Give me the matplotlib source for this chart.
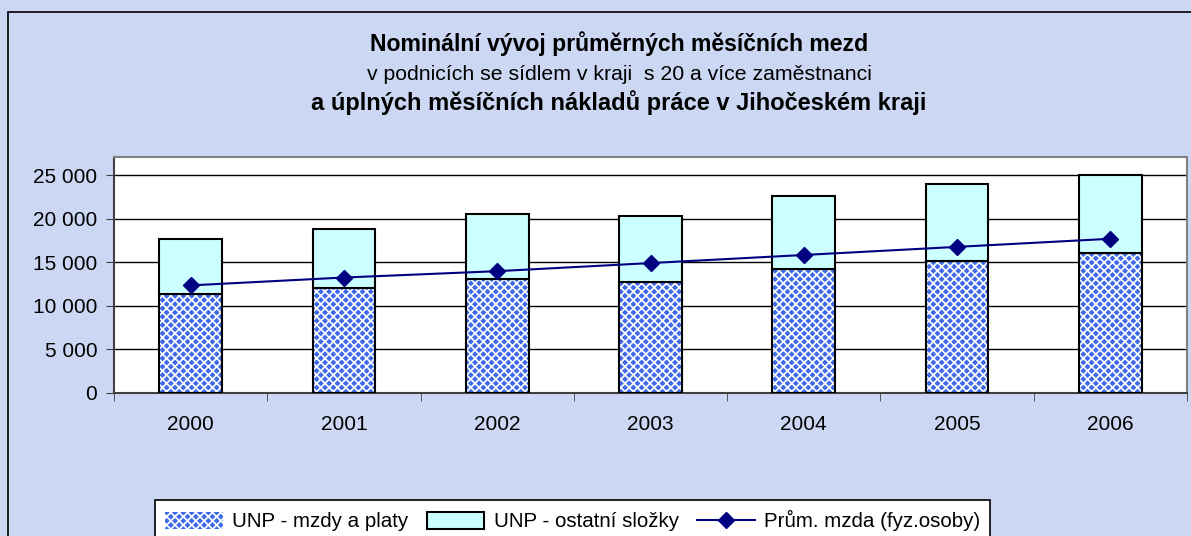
import numpy as np
import matplotlib
matplotlib.use("Agg")
import matplotlib.pyplot as plt
from matplotlib.patches import Rectangle

years = ["2000", "2001", "2002", "2003", "2004", "2005", "2006"]
mzdy_platy = [11360, 12090, 13060, 12790, 14230, 15120, 16050]
unp_celkem = [17710, 18880, 20540, 20270, 22640, 24030, 25000]
prum_mzda = [12360, 13260, 13990, 14920, 15850, 16780, 17710]
ostatni = [c - m for c, m in zip(unp_celkem, mzdy_platy)]

yticks = [0, 5000, 10000, 15000, 20000, 25000]
ytick_labels = ["0", "5 000", "10 000", "15 000", "20 000", "25 000"]

plt.rcParams['font.family'] = ['Liberation Sans', 'DejaVu Sans']
plt.rcParams['hatch.linewidth'] = 1.2

W, H = 1191, 536
fig = plt.figure(figsize=(W / 100, H / 100), dpi=100)
fig.patch.set_facecolor('#CCD7F3')

# outer chart frame
fig.patches.append(Rectangle((8 / W, -0.1), 1.2, 1 - 12 / H + 0.1, transform=fig.transFigure,
                             fill=False, edgecolor='black', linewidth=1.2))

ax = fig.add_axes([114 / W, 1 - 393 / H, (1187 - 114) / W, (393 - 157) / H])
ax.set_facecolor('white')

x = np.arange(len(years))
bw = 0.41
b1 = ax.bar(x, mzdy_platy, bw, color='#3E6BEA', edgecolor='white', hatch='xxxx', linewidth=0,
            label='UNP - mzdy a platy', zorder=2)
ax.bar(x, mzdy_platy, bw, fill=False, edgecolor='black', linewidth=1.5, zorder=3)
b2 = ax.bar(x, ostatni, bw, bottom=mzdy_platy, color='#CCFFFF', edgecolor='black', linewidth=1.5,
            label='UNP - ostatní složky', zorder=3)
l1, = ax.plot(x, prum_mzda, color='#000080', linewidth=1.5, marker='D', markersize=8,
              label='Prům. mzda (fyz.osoby)', zorder=4)

ax.set_xlim(-0.5, len(years) - 0.5)
ax.set_ylim(0, 27100)
ax.set_yticks(yticks)
ax.set_yticklabels(ytick_labels, fontsize=15)
ax.yaxis.grid(True, color='black', linewidth=1)
ax.set_axisbelow(True)

ax.set_xticks(x)
ax.set_xticklabels(years, fontsize=15)
ax.set_xticks(np.arange(len(years) + 1) - 0.5, minor=True)
ax.tick_params(axis='x', which='major', length=0, pad=16)
ax.tick_params(axis='x', which='minor', length=6, direction='out', color='#404040')
ax.tick_params(axis='y', length=6, direction='out', color='#404040', pad=6)

for s in ['top', 'right']:
    ax.spines[s].set_color('#808080')
    ax.spines[s].set_linewidth(1.5)
for s in ['left', 'bottom']:
    ax.spines[s].set_color('#404040')
    ax.spines[s].set_linewidth(1.5)

tx = 619 / W
fig.text(tx, 1 - 44 / H, "Nominální vývoj průměrných měsíčních mezd", ha='center', va='center',
         fontsize=16.6, fontweight='bold')
fig.text(tx, 1 - 74 / H, "v podnicích se sídlem v kraji  s 20 a více zaměstnanci", ha='center',
         va='center', fontsize=15.3)
fig.text(tx, 1 - 103 / H, "a úplných měsíčních nákladů práce v Jihočeském kraji", ha='center',
         va='center', fontsize=17, fontweight='bold')

leg = fig.legend([b1, b2, l1], [b1.get_label(), b2.get_label(), l1.get_label()],
                 loc='upper left', bbox_to_anchor=(155 / W, 1 - 500 / H), ncol=3,
                 prop={'size': 14.8},
                 frameon=True, fancybox=False, edgecolor='black', framealpha=1,
                 handlelength=2.8, handleheight=0.9, columnspacing=0.9, handletextpad=0.45,
                 borderpad=0.5, borderaxespad=0)
leg.get_frame().set_linewidth(1.2)

fig.savefig("out.png", dpi=100)
